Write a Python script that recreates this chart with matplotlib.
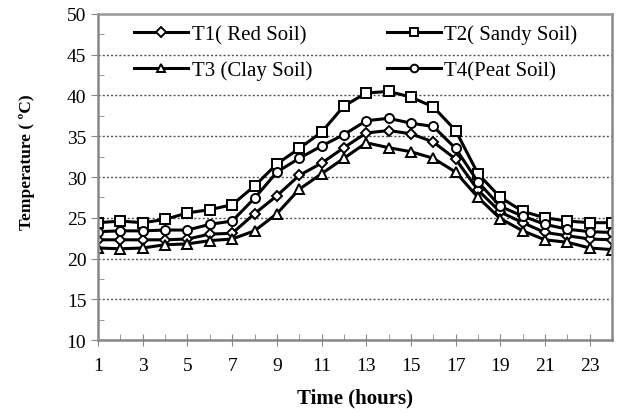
import numpy as np
import matplotlib.pyplot as plt
from matplotlib.ticker import MultipleLocator, FixedLocator

hours = list(range(1, 25))
t1_red = [22.3, 22.3, 22.3, 22.3, 22.4, 23.0, 23.1, 25.5, 27.7, 30.2, 31.7, 33.6,
          35.4, 35.7, 35.3, 34.3, 32.2, 28.4, 25.7, 24.4, 23.2, 22.8, 22.4, 22.3]
t2_sandy = [24.4, 24.6, 24.4, 24.8, 25.6, 26.0, 26.6, 28.9, 31.6, 33.5, 35.5, 38.7,
            40.3, 40.5, 39.8, 38.6, 35.7, 30.4, 27.5, 25.8, 25.0, 24.6, 24.4, 24.4]
t3_clay = [21.3, 21.2, 21.3, 21.7, 21.8, 22.2, 22.4, 23.4, 25.5, 28.5, 30.4, 32.3,
           34.2, 33.6, 33.1, 32.3, 30.6, 27.5, 24.9, 23.4, 22.3, 22.0, 21.3, 21.1]
t4_peat = [23.3, 23.4, 23.4, 23.5, 23.5, 24.2, 24.6, 27.4, 30.6, 32.3, 33.8, 35.2,
           36.9, 37.2, 36.6, 36.2, 33.5, 29.4, 26.4, 25.2, 24.2, 23.6, 23.3, 23.2]
xticks = list(range(1, 25, 2))

plt.rcParams['font.family'] = ['Liberation Serif', 'DejaVu Serif']
fig = plt.figure(figsize=(6.17, 4.14), dpi=100)
ax = fig.add_axes([0.159, 0.176, 0.833, 0.788])

kw = dict(color='black', lw=2.2, markersize=6.5, markeredgewidth=1.4,
          markerfacecolor='white', markeredgecolor='black')
ax.plot(hours, t1_red, marker='D', label='T1( Red Soil)', **dict(kw, markersize=5.5))
ax.plot(hours, t2_sandy, marker='s', label='T2( Sandy Soil)', **kw)
ax.plot(hours, t3_clay, marker='^', label='T3 (Clay Soil)', **dict(kw, markersize=7.5))
ax.plot(hours, t4_peat, marker='o', label='T4(Peat Soil)', **kw)

ax.set_xlim(1, 24)
ax.set_ylim(10, 50)
ax.xaxis.set_major_locator(FixedLocator(xticks))
ax.xaxis.set_minor_locator(MultipleLocator(1))
ax.yaxis.set_major_locator(MultipleLocator(5))
ax.yaxis.set_minor_locator(MultipleLocator(2.5))
ax.tick_params(axis='x', which='major', direction='inout', length=8, color='#888888', labelsize=14, pad=8)
ax.tick_params(axis='x', which='minor', direction='in', length=4, color='#888888')
ax.tick_params(axis='y', which='major', direction='out', length=5, color='#888888', labelsize=14)
ax.tick_params(axis='y', which='minor', direction='in', length=4, color='#888888')
ax.grid(axis='y', which='major', linestyle=(0, (1.5, 1.5)), color='#555555', lw=1)
for s in ['left', 'bottom', 'right']:
    ax.spines[s].set_color('#888888')
    ax.spines[s].set_linewidth(1.8)
ax.spines['top'].set_color('#999999')
ax.spines['top'].set_linestyle((0, (1.5, 1)))
ax.spines['top'].set_linewidth(1.8)

ax.set_xlabel('Time (hours)', fontsize=15, fontweight='bold', labelpad=10)
ax.set_ylabel('Temperature ( ºC)', fontsize=12.5, fontweight='bold')
ax.yaxis.set_label_coords(-0.122, 0.55)

handles, labels = ax.get_legend_handles_labels()
order = [0, 2, 1, 3]
ax.legend([handles[i] for i in order], [labels[i] for i in order], ncol=2,
          loc='upper left', bbox_to_anchor=(0.034, 1.025), frameon=False, fontsize=15,
          handlelength=2.6, handletextpad=0.15, columnspacing=3.6, labelspacing=0.78,
          markerscale=0.85)

plt.savefig('out.png')
